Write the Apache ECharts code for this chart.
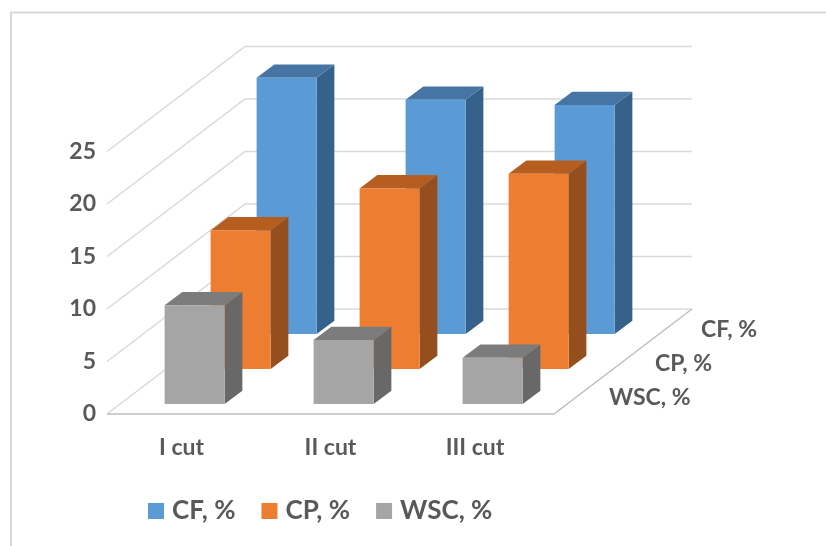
<!DOCTYPE html>
<html>
<head>
<meta charset="utf-8">
<style>html,body{margin:0;padding:0;background:#fff}#c{width:826px;height:546px}</style>
<script src="https://cdn.jsdelivr.net/npm/echarts@6/dist/echarts.min.js"></script>
</head>
<body>
<div id="c"></div>
<script>
// Chart content
const cuts = ['I cut', 'II cut', 'III cut'];
const cfValues = [24.4, 22.3, 21.8];
const cpValues = [13.2, 17.2, 18.6];
const wscValues = [9.4, 6.1, 4.4];
const depthNames = ['WSC, %', 'CP, %', 'CF, %'];
const valueTicks = [0, 5, 10, 15, 20, 25];

// Oblique projection of the floor depth and of one bar's depth, in pixels
const DEPTH = { x: 138, y: -105 };
const BAR_DEPTH = { x: 17.7, y: -13.3 };
const BAR_RATIO = 0.403;
const FONT = 'Lato, "Open Sans", sans-serif';
const TEXT = '#595959';
const AXIS_SIZE = 23;

const project = (p, frac) => [p[0] + DEPTH.x * frac, p[1] + DEPTH.y * frac];
const poly = (points, fill) => ({ type: 'polygon', shape: { points }, style: { fill } });

// One row of 3D bars; rowIndex counts from the front of the floor
function barRow(name, values, rowIndex, colors) {
  const frontFrac = (rowIndex + 0.5) / 3 - 0.0715;
  return {
    name, type: 'custom', coordinateSystem: 'cartesian2d', z: 5 + (2 - rowIndex),
    itemStyle: { color: colors.front },
    encode: { x: 0, y: 1 },
    data: values.map((v, i) => [i, v]),
    renderItem(params, api) {
      const w = api.size([1, 0])[0] * BAR_RATIO;
      const base = project(api.coord([api.value(0), 0]), frontFrac);
      const top = project(api.coord([api.value(0), api.value(1)]), frontFrac);
      const x0 = base[0] - w / 2, x1 = base[0] + w / 2;
      const dx = BAR_DEPTH.x, dy = BAR_DEPTH.y;
      return {
        type: 'group',
        children: [
          poly([[x1, top[1]], [x1 + dx, top[1] + dy], [x1 + dx, base[1] + dy], [x1, base[1]]], colors.side),
          poly([[x0, top[1]], [x0 + dx, top[1] + dy], [x1 + dx, top[1] + dy], [x1, top[1]]], colors.top),
          poly([[x0, top[1]], [x1, top[1]], [x1, base[1]], [x0, base[1]]], colors.front)
        ]
      };
    }
  };
}

// Side wall and back wall gridlines, plus the floor edges
const wallSeries = {
  type: 'custom', coordinateSystem: 'cartesian2d', silent: true, z: 1,
  data: valueTicks.map(t => [0, t]),
  encode: { x: 0, y: 1 },
  renderItem(params, api) {
    const halfBand = api.size([1, 0])[0] / 2;
    const p = api.coord([0, api.value(1)]);
    const left = [p[0] - halfBand, p[1]];
    const back = project(left, 1);
    const right = [back[0] + halfBand * 6, back[1]];
    const style = { stroke: '#D9D9D9', lineWidth: 1.5, fill: 'none' };
    const children = [{ type: 'polyline', shape: { points: [left, back, right] }, style }];
    if (api.value(1) === 0) {
      const frontRight = [left[0] + halfBand * 6, left[1]];
      children.push({
        type: 'polyline',
        shape: { points: [left, frontRight, right] },
        style: { stroke: '#BFBFBF', lineWidth: 1.5, fill: 'none' }
      });
    }
    return { type: 'group', children };
  }
};

// Series names along the right edge of the floor
const depthLabelSeries = {
  type: 'custom', coordinateSystem: 'cartesian2d', silent: true, z: 9,
  data: depthNames.map((n, i) => [2, 0, n, i]),
  encode: { x: 0, y: 1 },
  renderItem(params, api) {
    const halfBand = api.size([1, 0])[0] / 2;
    const p = api.coord([2, 0]);
    const at = project([p[0] + halfBand, p[1]], (api.value(3) + 0.5) / 3);
    return {
      type: 'text',
      style: {
        x: at[0] + 32, y: at[1] + 1 + api.value(3), text: depthNames[api.value(3)],
        font: 'bold ' + AXIS_SIZE + 'px ' + FONT, fill: TEXT, textAlign: 'left', textVerticalAlign: 'middle'
      }
    };
  }
};

const chart = echarts.init(document.getElementById('c'), null, { renderer: 'canvas' });
chart.setOption({
  animation: false,
  backgroundColor: '#fff',
  grid: { left: 107, width: 447, top: 151.5, height: 262.5, containLabel: false },
  xAxis: {
    type: 'category', data: cuts,
    axisLine: { show: false }, axisTick: { show: false },
    axisLabel: {
      interval: 0, hideOverlap: false,
      color: TEXT, fontFamily: FONT, fontSize: AXIS_SIZE, fontWeight: 'bold', margin: 22,
      formatter: (v, i) => (i === 2 ? '{last|' + v + '}' : v),
      rich: { last: { color: TEXT, fontFamily: FONT, fontSize: AXIS_SIZE, fontWeight: 'bold', padding: [0, 9, 0, 0] } }
    }
  },
  yAxis: {
    type: 'value', min: 0, max: 25, interval: 5,
    splitLine: { show: false }, axisLine: { show: false }, axisTick: { show: false },
    axisLabel: { color: TEXT, fontFamily: FONT, fontSize: AXIS_SIZE, fontWeight: 'bold', margin: 11, verticalAlign: 'middle', padding: [0, 0, 5, 0] }
  },
  legend: {
    data: ['CF, %', 'CP, %', 'WSC, %'],
    left: 143, top: 493, icon: 'rect', itemWidth: 16, itemHeight: 16, itemGap: 26,
    textStyle: { color: TEXT, fontFamily: FONT, fontSize: 26, fontWeight: 'bold', padding: [0, 0, 0, 3] }
  },
  graphic: [{
    type: 'polyline', silent: true, z: 0,
    shape: { points: [[11, 548], [11, 12.5], [828, 12.5]] },
    style: { stroke: '#D9D9D9', lineWidth: 2, fill: 'none' }
  }],
  series: [
    wallSeries,
    barRow('CF, %', cfValues, 2, { front: '#5B9BD5', top: '#4675A4', side: '#36618A' }),
    barRow('CP, %', cpValues, 1, { front: '#ED7D31', top: '#B55E20', side: '#954F1E' }),
    barRow('WSC, %', wscValues, 0, { front: '#A5A5A5', top: '#7C7C7C', side: '#686868' }),
    depthLabelSeries
  ]
});
</script>
</body>
</html>
